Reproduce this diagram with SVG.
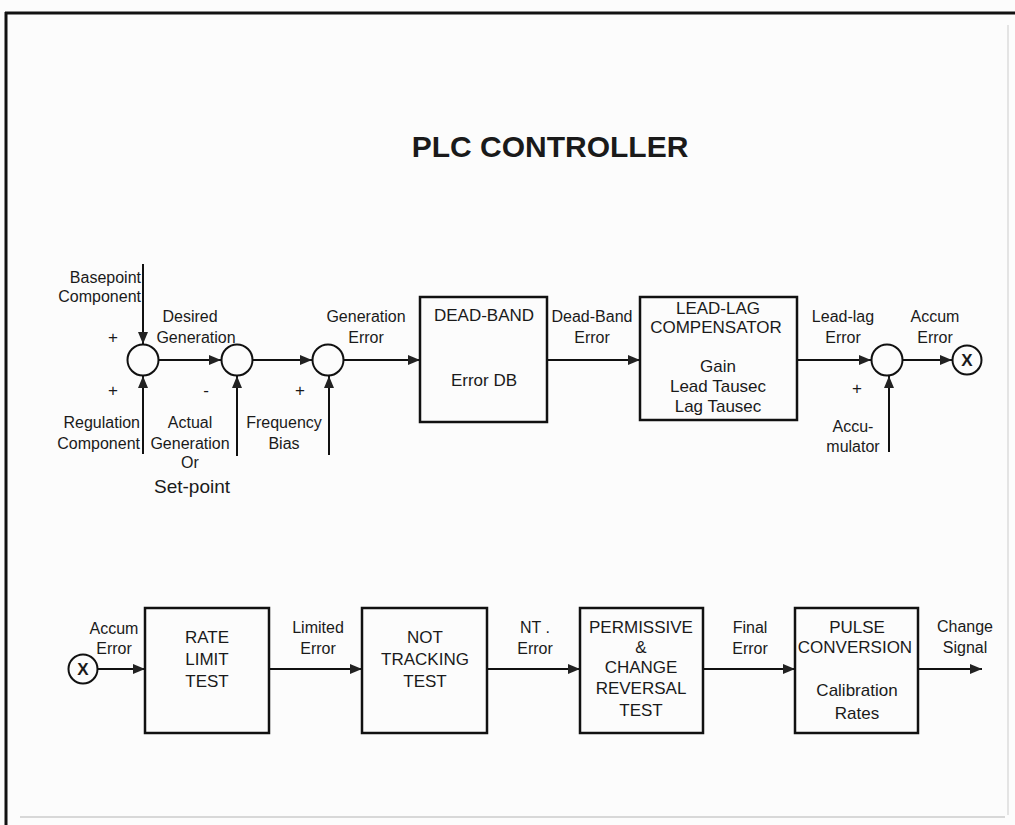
<svg xmlns="http://www.w3.org/2000/svg" width="1015" height="825" viewBox="0 0 1015 825">
<defs>
<marker id="arr" viewBox="0 0 12 10" refX="12" refY="5" markerWidth="12" markerHeight="10" markerUnits="userSpaceOnUse" orient="auto">
<path d="M0,0 L12,5 L0,10 Z" fill="#222"/>
</marker>
</defs>
<style>
text{font-family:"Liberation Sans",Arial,sans-serif;fill:#1a1a1a;}
.lb{font-size:16px;text-anchor:middle;}
.lr{font-size:16px;text-anchor:end;}
.bx{font-size:17px;text-anchor:middle;}
.box{fill:none;stroke:#111;stroke-width:2.5;}
.sum{fill:none;stroke:#111;stroke-width:2;}
.ln{stroke:#111;stroke-width:2;fill:none;}
.sg{font-size:17px;text-anchor:middle;}
</style>
<rect width="1015" height="825" fill="#fcfcfc"/>
<!-- frame -->
<line x1="5" y1="13" x2="1015" y2="13" stroke="#111" stroke-width="3"/>
<line x1="6" y1="12" x2="6" y2="825" stroke="#111" stroke-width="3"/>
<line x1="20" y1="817" x2="1005" y2="817" stroke="#ccc" stroke-width="1.5"/>
<line x1="1008" y1="25" x2="1008" y2="815" stroke="#ddd" stroke-width="1.5"/>
<text x="550" y="157" font-size="30" font-weight="bold" text-anchor="middle">PLC CONTROLLER</text>

<g id="connectors">
<line class="ln" x1="143" y1="264" x2="143" y2="344" marker-end="url(#arr)"/>
<line class="ln" x1="143" y1="454" x2="143" y2="376" marker-end="url(#arr)"/>
<line class="ln" x1="158" y1="360" x2="221" y2="360" marker-end="url(#arr)"/>
<line class="ln" x1="237" y1="456" x2="237" y2="376" marker-end="url(#arr)"/>
<line class="ln" x1="253" y1="360" x2="312" y2="360" marker-end="url(#arr)"/>
<line class="ln" x1="329" y1="455" x2="329" y2="376" marker-end="url(#arr)"/>
<line class="ln" x1="344" y1="360" x2="420" y2="360" marker-end="url(#arr)"/>
<line class="ln" x1="547" y1="360" x2="640" y2="360" marker-end="url(#arr)"/>
<line class="ln" x1="797" y1="360" x2="871" y2="360" marker-end="url(#arr)"/>
<line class="ln" x1="889" y1="452" x2="889" y2="376" marker-end="url(#arr)"/>
<line class="ln" x1="903" y1="360" x2="952" y2="360" marker-end="url(#arr)"/>
<line class="ln" x1="97" y1="669" x2="145" y2="669" marker-end="url(#arr)"/>
<line class="ln" x1="269" y1="669" x2="362" y2="669" marker-end="url(#arr)"/>
<line class="ln" x1="487" y1="669" x2="580" y2="669" marker-end="url(#arr)"/>
<line class="ln" x1="703" y1="669" x2="795" y2="669" marker-end="url(#arr)"/>
<line class="ln" x1="918" y1="669" x2="982" y2="669" marker-end="url(#arr)"/>
</g>

<g id="sum1">
<circle class="sum" cx="143" cy="360" r="15.5"/>
<text class="sg" x="113" y="343">+</text>
<text class="sg" x="113" y="396">+</text>
</g>
<g id="sum2">
<circle class="sum" cx="237" cy="360" r="15.5"/>
<text class="sg" x="206" y="396">-</text>
</g>
<g id="sum3">
<circle class="sum" cx="328" cy="360" r="15.5"/>
<text class="sg" x="300" y="396">+</text>
</g>
<g id="sum4">
<circle class="sum" cx="887" cy="360" r="15.5"/>
<text class="sg" x="857" y="394">+</text>
</g>
<g id="x-top">
<circle class="sum" cx="967" cy="360" r="14.5"/>
<text x="967" y="366" font-size="17" font-weight="bold" text-anchor="middle">X</text>
</g>
<g id="x-bottom">
<circle class="sum" cx="83" cy="669" r="14.5"/>
<text x="83" y="675" font-size="17" font-weight="bold" text-anchor="middle">X</text>
</g>

<g id="labels-top">
<text class="lr" x="141" y="283">Basepoint</text>
<text class="lr" x="141" y="302">Component</text>
<text class="lb" x="190" y="322">Desired</text>
<text class="lb" x="196" y="343">Generation</text>
<text class="lr" x="140" y="428">Regulation</text>
<text class="lr" x="140" y="449">Component</text>
<text class="lb" x="190" y="428">Actual</text>
<text class="lb" x="190" y="449">Generation</text>
<text class="lb" x="190" y="468">Or</text>
<text x="192" y="493" font-family="Liberation Serif,serif" font-size="19" text-anchor="middle">Set-point</text>
<text class="lb" x="284" y="428">Frequency</text>
<text class="lb" x="284" y="449">Bias</text>
<text class="lb" x="366" y="322">Generation</text>
<text class="lb" x="366" y="343">Error</text>
<text class="lb" x="592" y="322">Dead-Band</text>
<text class="lb" x="592" y="343">Error</text>
<text class="lb" x="843" y="322">Lead-lag</text>
<text class="lb" x="843" y="343">Error</text>
<text class="lb" x="935" y="322">Accum</text>
<text class="lb" x="935" y="343">Error</text>
<text class="lb" x="853" y="432">Accu-</text>
<text class="lb" x="853" y="452">mulator</text>
</g>

<g id="deadband">
<rect class="box" x="420" y="297" width="127" height="125"/>
<text class="bx" x="484" y="321">DEAD-BAND</text>
<text class="bx" x="484" y="386">Error DB</text>
</g>
<g id="leadlag">
<rect class="box" x="640" y="297" width="157" height="123"/>
<text class="bx" x="718" y="314">LEAD-LAG</text>
<text class="bx" x="716" y="333">COMPENSATOR</text>
<text class="bx" x="718" y="372">Gain</text>
<text class="bx" x="718" y="392">Lead Tausec</text>
<text class="bx" x="718" y="412">Lag Tausec</text>
</g>

<g id="labels-bottom">
<text class="lb" x="114" y="634">Accum</text>
<text class="lb" x="114" y="654">Error</text>
<text class="lb" x="318" y="633">Limited</text>
<text class="lb" x="318" y="654">Error</text>
<text class="lb" x="535" y="633">NT .</text>
<text class="lb" x="535" y="654">Error</text>
<text class="lb" x="750" y="633">Final</text>
<text class="lb" x="750" y="654">Error</text>
<text class="lb" x="965" y="632">Change</text>
<text class="lb" x="965" y="653">Signal</text>
</g>

<g id="ratelimit">
<rect class="box" x="145" y="608" width="124" height="125"/>
<text class="bx" x="207" y="643">RATE</text>
<text class="bx" x="207" y="665">LIMIT</text>
<text class="bx" x="207" y="687">TEST</text>
</g>
<g id="nottracking">
<rect class="box" x="362" y="608" width="125" height="125"/>
<text class="bx" x="425" y="643">NOT</text>
<text class="bx" x="425" y="665">TRACKING</text>
<text class="bx" x="425" y="687">TEST</text>
</g>
<g id="permissive">
<rect class="box" x="580" y="608" width="123" height="125"/>
<text class="bx" x="641" y="633">PERMISSIVE</text>
<text class="bx" x="641" y="653">&amp;</text>
<text class="bx" x="641" y="673">CHANGE</text>
<text class="bx" x="641" y="694">REVERSAL</text>
<text class="bx" x="641" y="716">TEST</text>
</g>
<g id="pulse">
<rect class="box" x="795" y="608" width="123" height="125"/>
<text class="bx" x="857" y="633">PULSE</text>
<text class="bx" x="855" y="653">CONVERSION</text>
<text class="bx" x="857" y="696">Calibration</text>
<text class="bx" x="857" y="719">Rates</text>
</g>
</svg>
